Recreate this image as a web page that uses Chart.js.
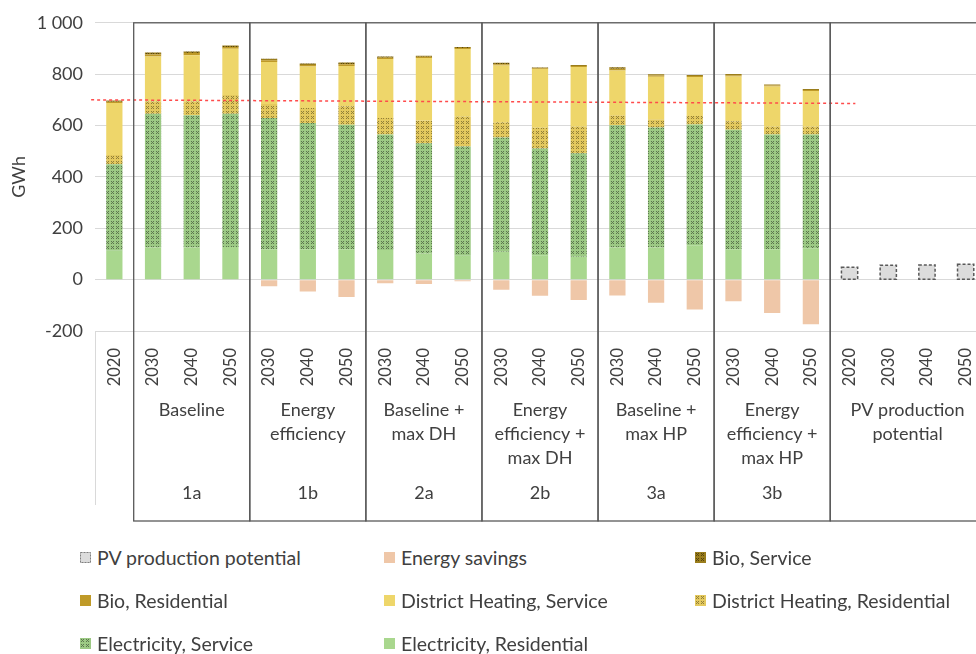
<!DOCTYPE html>
<html lang="en">
<head>
<meta charset="UTF-8">
<title>Heat and electricity demand per scenario</title>
<script src="https://cdn.jsdelivr.net/npm/chart.js"></script>
<style>
    body {
        margin: 0;
        width: 976px;
        height: 654px;
        overflow: hidden;
        background: #fff;
        font-family: Lato, 'Open Sans', sans-serif;
        color: #404040;
    }
    .chart-wrap {
        position: absolute;
        left: 0;
        top: 0;
        width: 1000px;
        height: 525px;
    }
    #legend {
        position: absolute;
        left: 80px;
        top: 536px;
        display: grid;
        grid-template-columns: 304px 311px 290px;
        grid-auto-rows: 43px;
    }
    .item {
        display: flex;
        align-items: center;
        font-size: 19.5px;
        white-space: nowrap;
    }
    .item canvas {
        width: 11px;
        height: 11px;
        margin-right: 6px;
    }
</style>
</head>
<body>
<div class="chart-wrap"><canvas id="demandChart"></canvas></div>
<div id="legend"></div>

<script>
    // x axis: one bar per year, grouped by scenario
    const yearLabels = ['2020',
        '2030', '2040', '2050', '2030', '2040', '2050', '2030', '2040', '2050',
        '2030', '2040', '2050', '2030', '2040', '2050', '2030', '2040', '2050',
        '2020', '2030', '2040', '2050'];
    const scenarioNames = [['Baseline'], ['Energy', 'efficiency'], ['Baseline +', 'max DH'],
        ['Energy', 'efficiency +', 'max DH'], ['Baseline +', 'max HP'],
        ['Energy', 'efficiency +', 'max HP'], ['PV production', 'potential']];
    const scenarioIds = ['1a', '1b', '2a', '2b', '3a', '3b', ''];
    const scenarioFirst = [1, 4, 7, 10, 13, 16, 19];
    const scenarioLast = [3, 6, 9, 12, 15, 18, 22];

    // GWh
    const elecResidential = [112, 125, 125, 127, 118, 118, 118, 115, 102, 93, 109, 95, 89, 125, 125, 134, 118, 118, 122, null, null, null, null];
    const elecService = [337, 521, 515, 519, 511, 492, 485, 450, 429, 425, 444, 416, 403, 476, 467, 470, 466, 447, 443, null, null, null, null];
    const dhResidential = [36, 48, 54, 73, 55, 58, 72, 64, 89, 116, 60, 80, 103, 39, 32, 33, 33, 30, 30, null, null, null, null];
    const dhService = [203, 175, 180, 180, 163, 162, 157, 230, 243, 264, 221, 229, 233, 174, 166, 152, 174, 157, 139, null, null, null, null];
    const bioResidential = [5, 8, 8, 7, 7, 6, 7, 5, 5, 4, 5, 3, 4, 7, 5, 4, 5, 4, 4, null, null, null, null];
    const bioService = [4, 7, 6, 6, 6, 6, 6, 5, 4, 4, 5, 3, 4, 6, 5, 4, 5, 4, 4, null, null, null, null];
    const energySavings = [null, null, null, null, -26, -46, -68, -14, -17, -6, -39, -63, -79, -62, -90, -116, -84, -130, -174, null, null, null, null];
    const pvPotential = [null, null, null, null, null, null, null, null, null, null, null, null, null, null, null, null, null, null, null, 48, 56, 57, 60];

    // red dashed reference (2020 demand level), from/to category index
    const refFrom = -0.6, refTo = 19.15;
    const refStartValue = 700, refEndValue = 686;

    const yMin = -200, yMax = 1000, yStep = 200;

    const ctx = document.getElementById('demandChart').getContext('2d');

    function dotPattern(base, dot) {
        const c = document.createElement('canvas');
        c.width = 5; c.height = 5;
        const g = c.getContext('2d');
        g.fillStyle = base;
        g.fillRect(0, 0, 5, 5);
        g.fillStyle = dot;
        g.fillRect(1, 1, 1, 1); g.fillRect(3, 1, 1, 1);
        g.fillRect(2, 2, 1, 1);
        g.fillRect(1, 3, 1, 1); g.fillRect(3, 3, 1, 1);
        return ctx.createPattern(c, 'repeat');
    }

    const datasets = [
        { label: 'Electricity, Residential', data: elecResidential, backgroundColor: '#a9d78e' },
        { label: 'Electricity, Service', data: elecService, backgroundColor: dotPattern('#9cc984', 'rgba(70,90,60,0.75)') },
        { label: 'District Heating, Residential', data: dhResidential, backgroundColor: dotPattern('#e4c95e', 'rgba(110,95,40,0.7)') },
        { label: 'District Heating, Service', data: dhService, backgroundColor: '#eed66a' },
        { label: 'Bio, Residential', data: bioResidential, backgroundColor: '#bf9a28' },
        { label: 'Bio, Service', data: bioService, backgroundColor: dotPattern('#9a7d1c', 'rgba(70,55,10,0.8)') },
        { label: 'Energy savings', data: energySavings, backgroundColor: '#efc7a8' },
        { label: 'PV production potential', data: pvPotential, backgroundColor: '#dcdcdc' }
    ];
    datasets.forEach(d => {
        d.borderWidth = 0;
        d.categoryPercentage = 1;
        d.barPercentage = 0.42;
    });
    const pvIndex = datasets.length - 1;

    const scenarioBoxes = {
        id: 'scenarioBoxes',
        afterDatasetsDraw(chart) {
            const { ctx, scales: { x, y } } = chart;
            ctx.save();
            // dashed outline of PV bars
            ctx.strokeStyle = '#595959';
            ctx.lineWidth = 1.5;
            ctx.setLineDash([3, 2]);
            chart.getDatasetMeta(pvIndex).data.forEach((bar, i) => {
                if (pvPotential[i] === null) return;
                const p = bar.getProps(['x', 'y', 'base', 'width'], true);
                ctx.strokeRect(p.x - p.width / 2, p.y, p.width, p.base - p.y);
            });
            // 2020 level
            ctx.strokeStyle = '#ff4b4b';
            ctx.lineWidth = 1.5;
            ctx.setLineDash([3, 3]);
            ctx.beginPath();
            ctx.moveTo(x.getPixelForValue(refFrom), y.getPixelForValue(refStartValue));
            ctx.lineTo(x.getPixelForValue(refTo), y.getPixelForValue(refEndValue));
            ctx.stroke();
            ctx.restore();
        },
        afterDraw(chart) {
            const { ctx, chartArea, scales: { x, y } } = chart;
            const top = y.getPixelForValue(yMax);
            const bottom = chartArea.bottom + 190;
            ctx.save();
            ctx.strokeStyle = '#d9d9d9';
            ctx.lineWidth = 1;
            ctx.beginPath();
            ctx.moveTo(Math.round(chartArea.left) + 0.5, chartArea.bottom);
            ctx.lineTo(Math.round(chartArea.left) + 0.5, chartArea.bottom + 174);
            ctx.stroke();

            ctx.strokeStyle = '#595959';
            ctx.lineWidth = 1.3;
            ctx.fillStyle = '#404040';
            ctx.font = '18px Lato, "Open Sans", sans-serif';
            ctx.textAlign = 'center';
            ctx.textBaseline = 'middle';
            scenarioNames.forEach((lines, i) => {
                const l = x.getPixelForValue(scenarioFirst[i] - 0.5);
                const r = x.getPixelForValue(scenarioLast[i] + 0.5);
                ctx.strokeRect(l, top, r - l, bottom - top);
                const cx = (x.getPixelForValue(scenarioFirst[i]) + x.getPixelForValue(scenarioLast[i])) / 2;
                lines.forEach((t, k) => ctx.fillText(t, cx, chartArea.bottom + 79 + k * 24));
                if (scenarioIds[i]) ctx.fillText(scenarioIds[i], cx, chartArea.bottom + 162);
            });
            ctx.restore();
        }
    };

    const chart = new Chart(ctx, {
        type: 'bar',
        data: { labels: yearLabels, datasets: datasets },
        options: {
            responsive: true,
            maintainAspectRatio: false,
            animation: false,
            layout: { padding: { top: 20, right: 15, left: 0, bottom: 0 } },
            plugins: {
                legend: { display: false },
                tooltip: { enabled: false }
            },
            scales: {
                x: {
                    stacked: true,
                    grid: { display: false },
                    border: { display: false },
                    afterFit: s => { s.height = 194; },
                    ticks: {
                        autoSkip: false,
                        minRotation: 90,
                        maxRotation: 90,
                        padding: 9,
                        color: '#404040',
                        font: { family: 'Lato, "Open Sans", sans-serif', size: 16.5 }
                    }
                },
                y: {
                    stacked: true,
                    min: yMin,
                    max: yMax,
                    afterFit: s => { s.width = 95; },
                    grid: { color: '#d9d9d9', drawTicks: false },
                    border: { display: false },
                    ticks: {
                        stepSize: yStep,
                        padding: 12,
                        color: '#404040',
                        font: { family: 'Lato, "Open Sans", sans-serif', size: 18 },
                        callback: v => String(v).replace(/\B(?=(\d{3})+(?!\d))/g, ' ')
                    },
                    title: {
                        display: true,
                        text: 'GWh',
                        color: '#404040',
                        padding: { top: 8, bottom: 0 },
                        font: { family: 'Lato, "Open Sans", sans-serif', size: 18 }
                    }
                }
            }
        },
        plugins: [scenarioBoxes]
    });

    // legend in the figure's order (reverse of stacking)
    const legendEl = document.getElementById('legend');
    datasets.slice().reverse().forEach((d, i) => {
        const item = document.createElement('div');
        item.className = 'item';
        const sw = document.createElement('canvas');
        sw.width = 11; sw.height = 11;
        const g = sw.getContext('2d');
        g.fillStyle = d.backgroundColor;
        g.fillRect(0, 0, 11, 11);
        if (i === 0) {
            g.strokeStyle = '#7f7f7f';
            g.setLineDash([2, 1]);
            g.strokeRect(0.5, 0.5, 10, 10);
        }
        item.appendChild(sw);
        item.appendChild(document.createTextNode(d.label));
        legendEl.appendChild(item);
    });
</script>
</body>
</html>
